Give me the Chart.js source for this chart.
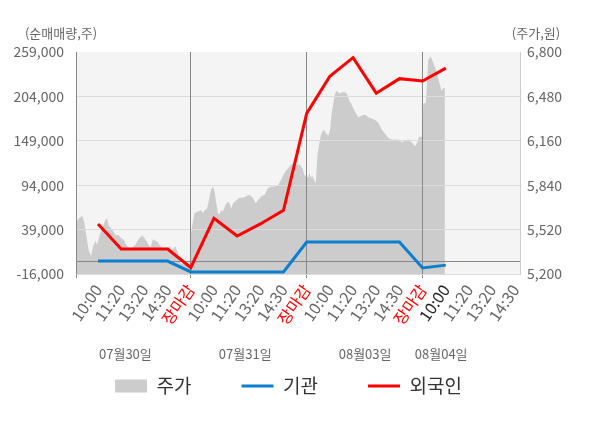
<!DOCTYPE html>
<html>
<head>
<meta charset="utf-8">
<script src="https://cdn.jsdelivr.net/npm/chart.js@4.4.0/dist/chart.umd.min.js"></script>
<style>
  html, body { margin: 0; background: #fff; }
</style>
</head>
<body>
<canvas id="c" width="600" height="428"></canvas>
<script>
// x labels, one per slot; 장마감 = market close
const tickLabels = ['10:00','11:20','13:20','14:30','장마감',
                    '10:00','11:20','13:20','14:30','장마감',
                    '10:00','11:20','13:20','14:30','장마감',
                    '10:00','11:20','13:20','14:30'];
const closeAt = [4, 9, 14];
const nowAt = 15;
const dateLabels = ['07월30일', '07월31일', '08월03일', '08월04일'];
const dateAt = [1.18, 6.35, 11.52, 14.8];

// 순매매량 (shares), one value per slot
const foreign = [46000, 15000, 15000, 15000, -8000, 53000, 31000, 46000, 63000,
                 183000, 229000, 252000, 208000, 226000, 223000, 239000];
const inst = [0, 0, 0, 0, -13500, -13500, -13500, -13500, -13500,
              23500, 23500, 23500, 23500, 23500, -8500, -5000];

// 주가 (won), intraday samples; priceT is the position in slot units
const priceT = [-0.93,-0.84,-0.68,-0.59,-0.50,-0.40,-0.30,-0.21,-0.11,-0.04,0.07,0.18,0.32,0.39,0.46,0.61,0.75,0.89,1.04,1.11,1.18,1.32,1.47,1.61,1.75,1.90,2.00,2.11,2.26,2.37,2.47,2.57,2.69,2.83,2.98,3.12,3.19,3.33,3.41,3.48,3.55,3.69,3.91,3.99,
  4.01,4.16,4.31,4.45,4.53,4.60,4.70,4.78,4.88,4.96,5.03,5.10,5.17,5.24,5.31,5.39,5.50,5.60,5.67,5.75,5.82,5.96,6.10,6.25,6.39,6.53,6.68,6.79,6.89,7.04,7.18,7.33,7.47,7.61,7.76,7.90,8.04,8.19,8.33,8.43,8.54,8.69,8.83,8.90,8.98,
  9.01,9.07,9.12,9.18,9.23,9.32,9.39,9.46,9.55,9.63,9.75,9.84,9.94,10.01,10.08,10.15,10.22,10.30,10.41,10.51,10.65,10.73,10.84,10.94,11.08,11.23,11.37,11.52,11.66,11.80,11.95,12.09,12.24,12.38,12.52,12.67,12.81,12.95,13.10,13.24,13.38,13.53,13.67,13.77,13.85,13.96,13.99,
  14.03,14.14,14.21,14.24,14.35,14.46,14.60,14.75,14.82,14.89,14.96];
const priceV = [5570,5600,5620,5570,5470,5370,5330,5400,5440,5410,5480,5530,5590,5600,5550,5520,5480,5480,5450,5450,5420,5390,5390,5410,5450,5480,5460,5430,5390,5450,5440,5430,5400,5380,5390,5400,5370,5400,5370,5310,5280,5270,5250,5250,
  5500,5640,5650,5660,5640,5660,5670,5730,5810,5830,5790,5710,5640,5630,5660,5650,5700,5720,5710,5670,5710,5730,5750,5750,5760,5770,5750,5710,5730,5760,5770,5820,5830,5830,5840,5880,5930,5960,5990,6000,5990,5990,5960,5910,5910,
  5900,5900,5930,5890,5910,5880,5850,6050,6150,6210,6240,6210,6200,6240,6360,6430,6500,6520,6500,6510,6510,6500,6450,6420,6370,6330,6340,6350,6330,6320,6310,6290,6240,6210,6180,6170,6170,6170,6150,6160,6170,6150,6120,6150,6190,6190,6190,
  6430,6430,6630,6740,6770,6720,6660,6560,6520,6540,6540];

const leftTicks = [-16000, 0, 39000, 94000, 149000, 204000, 259000];
const rightTicks = [5200, 5520, 5840, 6160, 6480, 6800];
const xMin = -0.95, xMax = 18.2;

const FONT = "'Noto Sans CJK KR', 'Noto Sans', sans-serif";
Chart.defaults.font.family = FONT;

const plotBg = {
  id: 'plotBg',
  beforeDraw(chart) {
    const {ctx, chartArea: a} = chart;
    ctx.save();
    ctx.fillStyle = '#f4f4f4';
    ctx.fillRect(a.left, a.top, a.right - a.left, a.bottom - a.top);
    ctx.restore();
  }
};

// grid goes over the price area but under the two lines
const gridOverArea = {
  id: 'gridOverArea',
  afterDatasetDraw(chart, args) {
    if (args.index !== 0) return;
    chart.scales.y.drawGrid(chart.chartArea);
    chart.scales.x.drawGrid(chart.chartArea);
  }
};

// unit captions above the y axes and the day names under the time labels
const captions = {
  id: 'captions',
  afterDraw(chart) {
    const {ctx, chartArea: a} = chart;
    const x = chart.scales.x;
    ctx.save();
    ctx.fillStyle = '#666';
    ctx.textAlign = 'center';
    ctx.textBaseline = 'middle';
    ctx.font = '13px ' + FONT;
    ctx.fillText('(순매매량,주)', a.left - 15, a.top - 19);
    ctx.fillText('(주가,원)', a.right + 16, a.top - 19);
    dateLabels.forEach((d, i) => ctx.fillText(d, x.getPixelForValue(dateAt[i]), a.bottom + 80));
    ctx.restore();
  }
};

new Chart(document.getElementById('c'), {
  type: 'line',
  data: {
    datasets: [
      {
        label: '주가',
        data: priceT.map((t, i) => ({x: t, y: priceV[i]})),
        yAxisID: 'y1',
        borderWidth: 0,
        backgroundColor: '#cccccc',
        fill: 'start',
        pointRadius: 0,
        pointStyle: 'rect',
        order: 2
      },
      {
        label: '기관',
        data: inst.map((v, i) => ({x: i, y: v})),
        yAxisID: 'y',
        borderColor: '#0b7fcf',
        backgroundColor: '#0b7fcf',
        borderWidth: 3,
        pointRadius: 0,
        pointStyle: 'line',
        order: 1
      },
      {
        label: '외국인',
        data: foreign.map((v, i) => ({x: i, y: v})),
        yAxisID: 'y',
        borderColor: '#ff0000',
        backgroundColor: '#ff0000',
        borderWidth: 3,
        pointRadius: 0,
        pointStyle: 'line',
        order: 0
      }
    ]
  },
  options: {
    responsive: false,
    animation: false,
    devicePixelRatio: 1,
    events: [],
    layout: { padding: { top: 52, bottom: 22.5, left: 0, right: 23 } },
    plugins: {
      tooltip: { enabled: false },
      legend: {
        position: 'bottom',
        labels: {
          usePointStyle: true,
          pointStyleWidth: 32,
          boxHeight: 13,
          padding: 50,
          color: '#333',
          font: { size: 19 },
          sort: (a, b) => a.datasetIndex - b.datasetIndex
        }
      }
    },
    scales: {
      x: {
        type: 'linear',
        min: xMin,
        max: xMax,
        afterBuildTicks: s => { s.ticks = [xMin].concat(tickLabels.map((_, i) => i)).map(v => ({value: v})); },
        afterFit: s => { s.height = 52.5; },
        ticks: {
          autoSkip: false,
          minRotation: 55,
          maxRotation: 55,
          padding: 3,
          font: { size: 16 },
          color: c => closeAt.includes(c.tick.value) ? '#ff0000' : (c.tick.value === nowAt ? '#222' : '#666'),
          callback: v => Number.isInteger(v) ? tickLabels[v] : ''
        },
        grid: {
          color: c => (c.tick && (closeAt.includes(c.tick.value) || c.tick.value === xMin)) ? '#888' : 'transparent',
          tickLength: 4
        },
        border: { color: '#999' }
      },
      y: {
        position: 'left',
        min: -16000,
        max: 259000,
        afterBuildTicks: s => { s.ticks = leftTicks.map(v => ({value: v})); },
        afterFit: s => { s.width = 76; },
        ticks: {
          padding: 12,
          font: { size: 14 },
          color: '#666',
          callback: v => v === 0 ? '' : v.toLocaleString('en-US')
        },
        grid: {
          drawTicks: false,
          color: c => c.tick.value === 0 ? '#888' : (c.tick.value === 259000 ? 'transparent' : '#dcdcdc')
        },
        border: { color: '#999' }
      },
      y1: {
        position: 'right',
        min: 5200,
        max: 6800,
        afterBuildTicks: s => { s.ticks = rightTicks.map(v => ({value: v})); },
        afterFit: s => { s.width = 57; },
        ticks: {
          padding: 7,
          font: { size: 14 },
          color: '#666',
          callback: v => v.toLocaleString('en-US')
        },
        grid: { drawOnChartArea: false, drawTicks: false },
        border: { color: '#ccc' }
      }
    }
  },
  plugins: [plotBg, gridOverArea, captions]
});
</script>
</body>
</html>
